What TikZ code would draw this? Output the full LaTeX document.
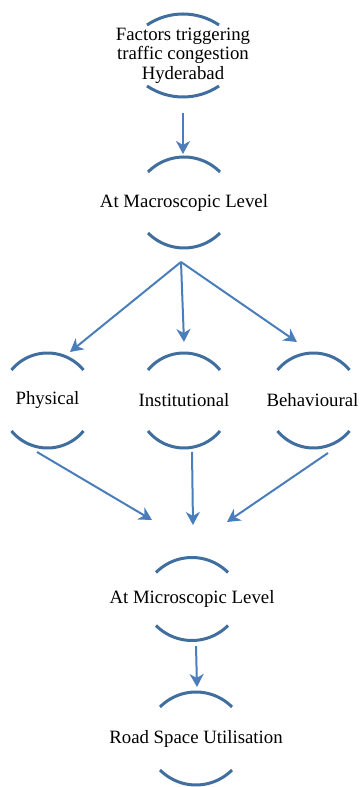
\documentclass[tikz,border=0pt]{standalone}
\usepackage{fontspec}
\setmainfont{Liberation Serif}
\usetikzlibrary{arrows.meta,calc}
\definecolor{arccol}{HTML}{3F6E9F}
\definecolor{arrcol}{HTML}{4A7EBB}
\tikzset{
  arcline/.style={draw=arccol, line width=3pt},
  arr/.style={draw=arrcol, line width=2pt, -{Stealth[length=13pt,width=14pt,inset=4pt]}},
  lbl/.style={font=\fontsize{18.8}{19.5}\selectfont, align=center, text=black, inner sep=0pt},
  pics/ring/.style n args={2}{code={
    \pgfmathsetmacro\RR{(36*36+#2*#2)/(2*#2)}
    \pgfmathsetmacro\TT{asin(36/\RR)}
    \draw[arcline] (-36,#1-#2) arc[start angle={90+\TT}, end angle={90-\TT}, radius=\RR pt];
    \draw[arcline] (-36,-#1+#2) arc[start angle={270-\TT}, end angle={270+\TT}, radius=\RR pt];
  }}
}
\begin{document}
\begin{tikzpicture}[x=1pt,y=1pt]
\useasboundingbox (0,0) rectangle (360,787);
% nodes
\node[lbl] (n1) at (183,731.5) {Factors triggering\\traffic congestion\\Hyderabad};
\node[lbl] (n2) at (184,584.5) {At Macroscopic Level};
\node[lbl] (phys) at (47.5,386.5) {Physical};
\node[lbl] (inst) at (184,386.5) {Institutional};
\node[lbl] (beh) at (312.5,386.5) {Behavioural};
\node[lbl] (n4) at (192,188) {At Microscopic Level};
\node[lbl] (n5) at (196,48.5) {Road Space Utilisation};
% ring arcs
\pic at (n1) {ring={41.5}{11}};
\pic at (n2) {ring={45.5}{15}};
\pic at (47.5,386.5) {ring={47.5}{17}};
\pic at (inst) {ring={47.5}{17}};
\pic at (313.5,386.5) {ring={47.5}{17}};
\pic at (n4) {ring={41.5}{15}};
\pic at (n5) {ring={46.5}{15}};
% connectors
\coordinate (split) at ($(n2)+(-3,-59.5)$);
\draw[arr] ($(n1)+(0,-57.5)$) -- ($(n2)+(-1,48.5)$);
\draw[arr] (split) -- ($(phys)+(22.5,48.5)$);
\draw[arr] (split) -- ($(inst)+(0,58.5)$);
\draw[arr] (split) -- ($(beh)+(-15.5,58.5)$);
\draw[arr] ($(phys)+(-10.5,-51.5)$) -- ($(n4)+(-40,79)$);
\draw[arr] ($(inst)+(8,-51.5)$) -- ($(n4)+(1,74)$);
\draw[arr] ($(beh)+(15.5,-52.5)$) -- ($(n4)+(35,77)$);
\draw[arr] ($(n4)+(4,-47)$) -- ($(n5)+(1,51.5)$);
\end{tikzpicture}
\end{document}
